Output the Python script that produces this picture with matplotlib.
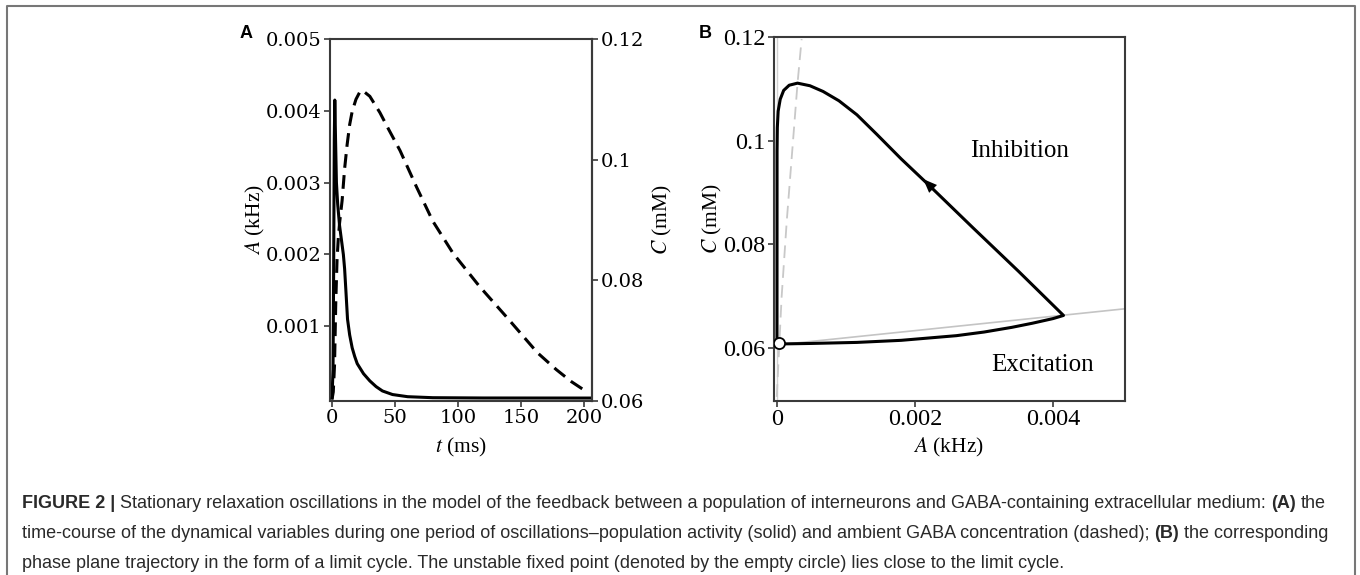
import matplotlib
matplotlib.use("Agg")
import matplotlib.pyplot as plt
from matplotlib.lines import Line2D

plt.rcParams['mathtext.fontset'] = 'stix'

W, H = 1360, 575

# Panel A: population activity (solid) and ambient GABA (dashed) over one period
t_act = [0, 0.8, 1.3, 1.8, 2.2, 2.8, 3.5, 4.5, 6, 7.5, 9, 10, 11, 12.3, 14, 16, 18, 20,
         25, 30, 35, 40, 48, 60, 80, 120, 205]
act = [0.0, 0.0004, 0.0018, 0.0036, 0.00415, 0.0036, 0.0030, 0.0027, 0.0024, 0.0022,
       0.0020, 0.0018, 0.0015, 0.0011, 0.00088, 0.0007, 0.00058, 0.00048,
       0.00034, 0.00024, 0.00016, 0.0001, 0.00005, 0.00002, 0.000006, 0.000002, 0.000001]
t_gaba = [0, 1, 2, 3, 4, 5, 6, 8, 10, 12, 14, 16, 19, 22, 24, 30, 38, 45, 54, 67,
          80, 96, 117, 139, 163, 178, 190, 203]
gaba = [0.0603, 0.0615, 0.066, 0.0765, 0.0835, 0.087, 0.0895, 0.0932, 0.0985, 0.1025,
        0.1058, 0.108, 0.11, 0.1112, 0.1115, 0.1105, 0.1078, 0.105, 0.1015, 0.0955,
        0.0898, 0.0845, 0.0790, 0.0738, 0.0680, 0.0652, 0.0632, 0.0614]
a_ticks = [0.001, 0.002, 0.003, 0.004, 0.005]
a_ticklabels = ['0.001', '0.002', '0.003', '0.004', '0.005']
c_ticks = [0.06, 0.08, 0.1, 0.12]
c_ticklabels = ['0.06', '0.08', '0.1', '0.12']
t_ticks = [0, 50, 100, 150, 200]

# Panel B: limit cycle in the (A, C) plane
cyc_a = [0.000003, 0.00003, 0.0005, 0.00116, 0.0018, 0.0026, 0.003, 0.0034, 0.0037,
         0.0040, 0.00415, 0.0035, 0.00284, 0.00222, 0.0018, 0.00145, 0.00116, 0.0009,
         0.00067, 0.00048, 0.0003, 0.00018, 0.0001, 0.00005, 0.00002, 0.000008,
         0.000004, 0.000003]
cyc_c = [0.0610, 0.0608, 0.0609, 0.0611, 0.0615, 0.0624, 0.0631, 0.0640, 0.0648,
         0.0657, 0.0663, 0.0748, 0.0832, 0.0912, 0.0965, 0.1012, 0.1050, 0.1077,
         0.1095, 0.1106, 0.1111, 0.1107, 0.1097, 0.1080, 0.1057, 0.1025, 0.0980, 0.0610]
fp_a, fp_c = [0.00003], [0.0609]
ncl_a, ncl_c = [0.0, 0.00505], [0.0606, 0.0676]
ncl2_a = [0.0, 0.00007, 0.000145, 0.0003, 0.00036]
ncl2_c = [0.0506, 0.0698, 0.0846, 0.111, 0.1196]
ncl0_a, ncl0_c = [0.0, 0.0], [0.05, 0.12]
b_xticks = [0, 0.002, 0.004]
b_xticklabels = ['0', '0.002', '0.004']

spine_col = '#3a3a3a'

fig = plt.figure(figsize=(W / 100, H / 100), dpi=100)


def fx(x):
    return x / W


def fy(y):
    return 1 - y / H


# outer frame
fig.add_artist(Line2D([fx(7), fx(7), fx(1355), fx(1355)], [0, fy(6), fy(6), 0],
                      transform=fig.transFigure, color='#777777', lw=1.5))

# ---- panel A
axA = fig.add_axes([fx(330), fy(401), 262 / W, 362 / H])
axA.plot(t_act, act, color='k', lw=2.2)
axA.set_xlim(-1.6, 206.3)
axA.set_ylim(-0.00004, 0.005)
axA.set_yticks(a_ticks)
axA.set_yticklabels(a_ticklabels, fontfamily='DejaVu Serif', fontsize=14)
axA.set_xticks(t_ticks)
axA.set_xticklabels([str(v) for v in t_ticks], fontfamily='DejaVu Serif', fontsize=14)
axA.tick_params(direction='out', length=4, width=1.2, color=spine_col, labelcolor='k', pad=2)

axC = axA.twinx()
axC.plot(t_gaba, gaba, color='k', lw=2.2, dashes=(4.5, 2.4))
axC.set_ylim(0.06, 0.12)
axC.set_yticks(c_ticks)
axC.set_yticklabels(c_ticklabels, fontfamily='DejaVu Serif', fontsize=14)
axC.tick_params(direction='out', length=4, width=1.2, color=spine_col, labelcolor='k', pad=2)
for s in axA.spines.values():
    s.set_color(spine_col)
    s.set_linewidth(1.5)
for name, s in axC.spines.items():
    s.set_color(spine_col)
    s.set_linewidth(1.5)
    s.set_visible(name == 'right')

fig.text(fx(255), fy(220), r'$A$ (kHz)', rotation=90, ha='center', va='center',
         fontfamily='Liberation Serif', fontsize=15.5)
fig.text(fx(662), fy(220), r'$C$ (mM)', rotation=90, ha='center', va='center',
         fontfamily='Liberation Serif', fontsize=15.5)
fig.text(fx(461), fy(447), r'$t$ (ms)', ha='center', va='center',
         fontfamily='Liberation Serif', fontsize=15.5)
fig.text(fx(246), fy(33), 'A', ha='center', va='center', fontweight='bold',
         fontfamily='Liberation Sans', fontsize=13)

# ---- panel B
axB = fig.add_axes([fx(774), fy(401), 351 / W, 364 / H])
axB.plot(ncl0_a, ncl0_c, color='#d0d0d0', lw=1)
axB.plot(ncl_a, ncl_c, color='#c4c4c4', lw=1.2)
axB.plot(ncl2_a, ncl2_c, color='#c8c8c8', lw=1.3, dashes=(7, 4))
axB.plot(cyc_a, cyc_c, color='k', lw=2.2, solid_joinstyle='round')
axB.annotate('', xy=(0.00212, 0.0926), xytext=(0.0026, 0.0862),
             arrowprops=dict(arrowstyle='-|>,head_length=1.0,head_width=0.4',
                             color='k', lw=0, shrinkA=0, shrinkB=0))
axB.plot(fp_a, fp_c, 'o', mfc='white', mec='k', ms=8, mew=1.3, zorder=5)
axB.text(0.00352, 0.0981, 'Inhibition', ha='center', va='center',
         fontfamily='Liberation Serif', fontsize=18)
axB.text(0.00384, 0.0567, 'Excitation', ha='center', va='center',
         fontfamily='Liberation Serif', fontsize=18)
axB.set_xlim(-0.00004, 0.00504)
axB.set_ylim(0.0498, 0.12)
axB.set_xticks(b_xticks)
axB.set_xticklabels(b_xticklabels, fontfamily='Liberation Serif', fontsize=17.5)
axB.set_yticks(c_ticks)
axB.set_yticklabels(c_ticklabels, fontfamily='Liberation Serif', fontsize=17.5)
axB.tick_params(direction='out', length=4, width=1.2, color=spine_col, labelcolor='k', pad=2)
for s in axB.spines.values():
    s.set_color(spine_col)
    s.set_linewidth(1.5)

fig.text(fx(712), fy(219), r'$C$ (mM)', rotation=90, ha='center', va='center',
         fontfamily='Liberation Serif', fontsize=15.5)
fig.text(fx(948), fy(447), r'$A$ (kHz)', ha='center', va='center',
         fontfamily='Liberation Serif', fontsize=15.5)
fig.text(fx(705), fy(33), 'B', ha='center', va='center', fontweight='bold',
         fontfamily='Liberation Sans', fontsize=13)

# ---- caption with bold runs
cap_lines = [
    [('FIGURE 2 |', True),
     (' Stationary relaxation oscillations in the model of the feedback between a population '
      'of interneurons and GABA-containing extracellular medium: ', False),
     ('(A)', True), (' the', False)],
    [('time-course of the dynamical variables during one period of oscillations\u2013population '
      'activity (solid) and ambient GABA concentration (dashed); ', False),
     ('(B)', True), (' the corresponding', False)],
    [('phase plane trajectory in the form of a limit cycle. The unstable fixed point '
      '(denoted by the empty circle) lies close to the limit cycle.', False)],
]
cap_size = 13.0
cap_font = 'Liberation Sans'
renderer = fig.canvas.get_renderer()


def text_width(s, bold):
    t = fig.text(0, 0, s, fontsize=cap_size, fontfamily=cap_font,
                 fontweight='bold' if bold else 'normal')
    w = t.get_window_extent(renderer).width
    t.remove()
    return w


space_w = text_width('a a', False) - text_width('aa', False)
for i, runs in enumerate(cap_lines):
    x = 22
    y = 503 + 30 * i
    for s, bold in runs:
        lead = len(s) - len(s.lstrip(' '))
        trail = len(s) - len(s.rstrip(' '))
        x += lead * space_w
        core = s.strip(' ')
        fig.text(fx(x), fy(y), core, fontsize=cap_size, fontfamily=cap_font,
                 fontweight='bold' if bold else 'normal', va='center', color='#2a2a2a')
        x += text_width(core, bold) + trail * space_w

fig.savefig('out.png', dpi=100)
